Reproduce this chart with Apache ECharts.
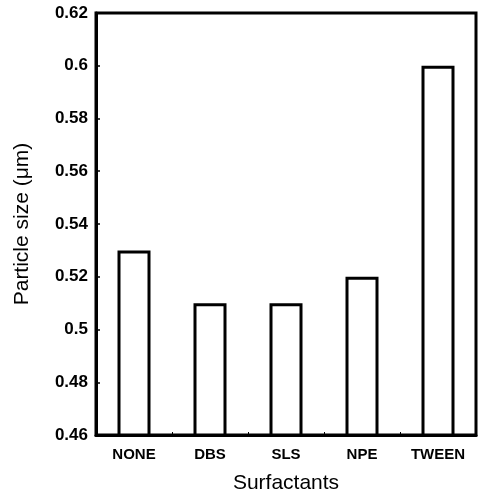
<!DOCTYPE html>
<html>
<head>
<meta charset="utf-8">
<script src="https://cdn.jsdelivr.net/npm/echarts@6/dist/echarts.min.js"></script>
<style>
  html, body { margin: 0; padding: 0; background: #fff; }
  #chart { width: 479px; height: 499px; }
</style>
</head>
<body>
<div id="chart"></div>
<script>
var surfactants = ['NONE', 'DBS', 'SLS', 'NPE', 'TWEEN'];
var particleSize = [0.53, 0.51, 0.51, 0.52, 0.60];
var yMin = 0.46, yMax = 0.62, yStep = 0.02;

var font = 'Liberation Sans, Arial, sans-serif';
var chart = echarts.init(document.getElementById('chart'));
chart.setOption({
    animation: false,
    backgroundColor: '#fff',
    grid: {
        left: 96, top: 13, right: 3, bottom: 64,
        show: true, borderColor: '#000', borderWidth: 3, backgroundColor: 'transparent'
    },
    xAxis: {
        type: 'category',
        data: surfactants,
        name: 'Surfactants',
        nameLocation: 'middle',
        nameGap: 38,
        nameTextStyle: { fontFamily: font, fontSize: 21, color: '#000' },
        axisLine: { lineStyle: { color: '#000', width: 3 } },
        axisTick: { show: true, inside: true, length: 3, lineStyle: { color: '#000', width: 1 } },
        axisLabel: { fontFamily: font, fontSize: 15, fontWeight: 'bold', color: '#000', margin: 12 }
    },
    yAxis: {
        type: 'value',
        min: yMin, max: yMax, interval: yStep,
        name: 'Particle size (\u03bcm)',
        nameLocation: 'middle',
        nameGap: 63,
        nameTextStyle: { fontFamily: font, fontSize: 21, color: '#000' },
        axisLine: { show: true, lineStyle: { color: '#000', width: 3 } },
        axisTick: { show: true, inside: true, length: 4, lineStyle: { color: '#000', width: 1.5 } },
        splitLine: { show: false },
        axisLabel: {
            fontFamily: font, fontSize: 17, fontWeight: 'bold', color: '#000', margin: 8,
            formatter: function (v) { return String(parseFloat(v.toFixed(2))); }
        }
    },
    series: [{
        type: 'bar',
        data: particleSize,
        barWidth: 33,
        itemStyle: { color: '#fff', borderColor: '#000', borderWidth: 3 }
    }]
});
</script>
</body>
</html>
